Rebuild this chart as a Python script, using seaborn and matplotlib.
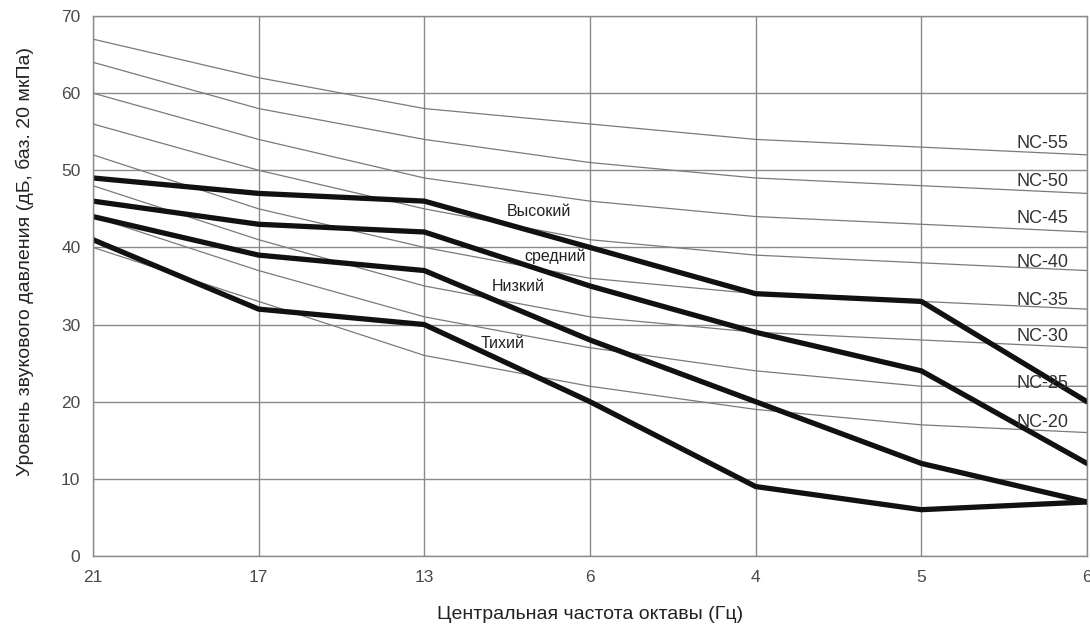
import matplotlib
matplotlib.use("Agg")
import matplotlib.pyplot as plt
import seaborn as sns
import pandas as pd
import numpy as np

# ---- data ----
freq_labels = ["21", "17", "13", "6", "4", "5", "6"]

nc_names = ["NC-55", "NC-50", "NC-45", "NC-40", "NC-35", "NC-30", "NC-25", "NC-20"]
nc55 = [67, 62, 58, 56, 54, 53, 52]
nc50 = [64, 58, 54, 51, 49, 48, 47]
nc45 = [60, 54, 49, 46, 44, 43, 42]
nc40 = [56, 50, 45, 41, 39, 38, 37]
nc35 = [52, 45, 40, 36, 34, 33, 32]
nc30 = [48, 41, 35, 31, 29, 28, 27]
nc25 = [44, 37, 31, 27, 24, 22, 22]
nc20 = [40, 33, 26, 22, 19, 17, 16]
nc_values = [nc55, nc50, nc45, nc40, nc35, nc30, nc25, nc20]

mode_names = ["Высокий", "средний", "Низкий", "Тихий"]
high = [49, 47, 46, 40, 34, 33, 20]
medium = [46, 43, 42, 35, 29, 24, 12]
low = [44, 39, 37, 28, 20, 12, 7]
quiet = [41, 32, 30, 20, 9, 6, 7]
mode_values = [high, medium, low, quiet]

y_ticks = [0, 10, 20, 30, 40, 50, 60, 70]

# ---- long-form frames ----
pos = np.arange(len(freq_labels))
nc_df = pd.concat([pd.DataFrame({"pos": pos, "level": v, "curve": n})
                   for n, v in zip(nc_names, nc_values)], ignore_index=True)
mode_df = pd.concat([pd.DataFrame({"pos": pos, "level": v, "mode": n})
                     for n, v in zip(mode_names, mode_values)], ignore_index=True)

sns.set_style("white")
plt.rcParams["font.family"] = ["Liberation Sans", "DejaVu Sans"]

fig = plt.figure(figsize=(10.9, 6.32), dpi=100)
ax = fig.add_axes([0.0853, 0.1203, 0.9119, 0.8544])

grid_c = "#8a8a8a"
ax.set_axisbelow(True)
ax.grid(True, color=grid_c, lw=1.0)

sns.lineplot(data=nc_df, x="pos", y="level", units="curve", estimator=None,
             color="#7a7a7a", lw=0.9, ax=ax, legend=False)
sns.lineplot(data=mode_df, x="pos", y="level", units="mode", estimator=None,
             color="#111111", lw=3.8, ax=ax, legend=False)

ax.set_xlim(0, len(freq_labels) - 1)
ax.set_ylim(0, 70)
ax.set_xticks(pos)
ax.set_xticklabels(freq_labels)
ax.set_yticks(y_ticks)
ax.tick_params(axis="both", direction="out", length=6, width=1, color=grid_c,
               labelcolor="#4a4a4a", labelsize=12.5)
ax.tick_params(axis="y", pad=3)
ax.tick_params(axis="x", pad=4)
for s in ax.spines.values():
    s.set_color(grid_c)
    s.set_linewidth(1.0)

ax.set_xlabel("Центральная частота октавы (Гц)", fontsize=14, color="#222222")
ax.xaxis.set_label_coords(0.5, -0.109)
ax.xaxis.label.set_va("center")
ax.set_ylabel("Уровень звукового давления (дБ, баз. 20 мкПа)", fontsize=14,
              color="#222222")
ax.yaxis.set_label_coords(-0.069, 0.546)
ax.yaxis.label.set_va("center")

# NC curve labels
nc_label_y = [53.5, 48.6, 43.7, 38.1, 33.1, 28.4, 22.4, 17.3]
for name, yy in zip(nc_names, nc_label_y):
    ax.text(5.73, yy, name, fontsize=13, color="#333333", ha="center", va="center")

# mode labels
mode_label_pos = [(2.69, 44.6), (2.79, 38.9), (2.57, 34.9), (2.47, 27.6)]
for name, (xx, yy) in zip(mode_names, mode_label_pos):
    ax.text(xx, yy, name, fontsize=11.5, color="#222222", ha="center", va="center")

fig.savefig("out.png", dpi=100)
